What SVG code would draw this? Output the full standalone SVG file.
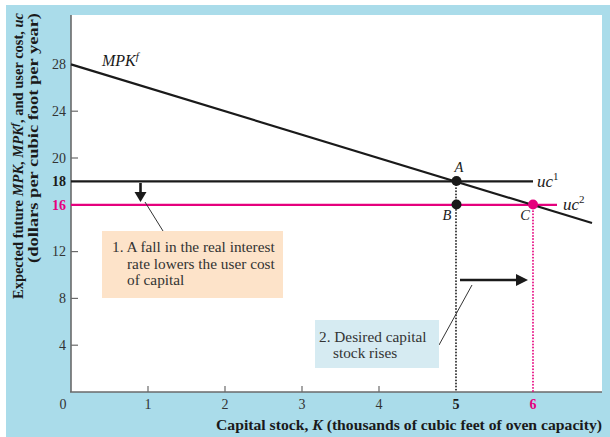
<svg xmlns="http://www.w3.org/2000/svg" width="610" height="437" viewBox="0 0 610 437">
<defs>
<style>
.t{font-family:"Liberation Serif","DejaVu Serif",serif;font-size:15.3px;fill:#333}
.tk{font-family:"Liberation Serif","DejaVu Serif",serif;font-size:14px;fill:#333}
.b{font-weight:bold}
.i{font-style:italic}
.pk{fill:#e5007d}
.ax{stroke:#6a6a6a;stroke-width:1.6;fill:none}
.tick{stroke:#6a6a6a;stroke-width:1.2}
.ln{stroke:#1a1a1a;stroke-width:2.2;fill:none}
.pl{stroke:#e5007d;stroke-width:2.2;fill:none}
.lead{stroke:#333;stroke-width:1;fill:none}
.dotb{stroke:#222;stroke-width:1.8;stroke-dasharray:0.1 3;stroke-linecap:round;fill:none}
.dotp{stroke:#e5007d;stroke-width:1.8;stroke-dasharray:0.1 3;stroke-linecap:round;fill:none}
.lab{font-family:"Liberation Serif","DejaVu Serif",serif;font-style:italic;fill:#1a1a1a}
</style>
</defs>
<rect x="6" y="5" width="604" height="432" fill="#aadcea"/>
<rect x="71" y="15" width="531" height="377" fill="#ffffff"/>

<g id="axes">
<line class="ax" x1="71" y1="15" x2="71" y2="392"/>
<line class="ax" x1="70" y1="392" x2="602" y2="392"/>
<g class="tick">
<line x1="71" y1="111.2" x2="78" y2="111.2"/>
<line x1="71" y1="158" x2="78" y2="158"/>
<line x1="71" y1="251.6" x2="78" y2="251.6"/>
<line x1="71" y1="298.4" x2="78" y2="298.4"/>
<line x1="71" y1="345.2" x2="78" y2="345.2"/>
<line x1="148" y1="386" x2="148" y2="392"/>
<line x1="225" y1="386" x2="225" y2="392"/>
<line x1="302" y1="386" x2="302" y2="392"/>
<line x1="379" y1="386" x2="379" y2="392"/>
</g>
<g class="tk" text-anchor="end">
<text x="66" y="69">28</text>
<text x="66" y="116">24</text>
<text x="66" y="163">20</text>
<text x="66" y="186" class="tk b" style="fill:#1a1a1a">18</text>
<text x="66" y="210" class="tk b pk">16</text>
<text x="66" y="256">12</text>
<text x="66" y="303">8</text>
<text x="66" y="350">4</text>
</g>
<g class="tk" text-anchor="middle">
<text x="63" y="409">0</text>
<text x="148" y="409">1</text>
<text x="225" y="409">2</text>
<text x="302" y="409">3</text>
<text x="379" y="409">4</text>
<text x="456" y="409" class="tk b" style="fill:#1a1a1a">5</text>
<text x="533" y="409" class="tk b pk">6</text>
</g>
<text class="tk b" x="216" y="430" textLength="386" lengthAdjust="spacingAndGlyphs" style="fill:#1a1a1a">Capital stock, <tspan class="i">K</tspan> (thousands of cubic feet of oven capacity)</text>
<text class="tk b" transform="translate(23,156) rotate(-90)" text-anchor="middle" textLength="286" lengthAdjust="spacingAndGlyphs" style="fill:#1a1a1a">Expected future <tspan class="i">MPK</tspan>, <tspan class="i">MPK</tspan><tspan class="i" font-size="10" dy="-5">f</tspan><tspan dy="5">, and user cost, </tspan><tspan class="i">uc</tspan></text>
<text class="tk b" transform="translate(38,138) rotate(-90)" text-anchor="middle" textLength="250" lengthAdjust="spacingAndGlyphs" style="fill:#1a1a1a">(dollars per cubic foot per year)</text>
</g>

<g id="connectors">
<line class="dotb" x1="456" y1="185" x2="456" y2="391"/>
<line class="dotp" x1="533" y1="208" x2="533" y2="391"/>
<line class="ln" x1="71" y1="181.4" x2="533" y2="181.4"/>
<line class="pl" x1="71" y1="204.8" x2="557" y2="204.8"/>
<line class="ln" x1="71" y1="64.4" x2="592" y2="223"/>
<line class="lead" x1="145" y1="202" x2="163" y2="231"/>
<line class="lead" x1="472" y1="285" x2="439" y2="345"/>
<line stroke="#1a1a1a" stroke-width="2.6" x1="140.5" y1="183" x2="140.5" y2="194"/>
<polygon points="134.5,192 146.5,192 140.5,202" fill="#1a1a1a"/>
<line stroke="#1a1a1a" stroke-width="2.6" x1="460" y1="280" x2="519" y2="280"/>
<polygon points="516,274 528,280 516,286" fill="#1a1a1a"/>
</g>

<g id="mpk-label">
<text class="lab" x="102" y="66" font-size="16">MPK<tspan font-size="11" dy="-6">f</tspan></text>
</g>
<g id="uc1-label">
<text class="lab" x="537" y="187" font-size="17">uc<tspan font-size="11" font-style="normal" dy="-7">1</tspan></text>
</g>
<g id="uc2-label">
<text class="lab" x="563" y="210" font-size="17">uc<tspan font-size="11" font-style="normal" dy="-7">2</tspan></text>
</g>

<g id="point-A">
<circle cx="456.5" cy="181" r="5" fill="#1a1a1a"/>
<text class="lab" x="459" y="172" font-size="14.5" text-anchor="middle">A</text>
</g>
<g id="point-B">
<circle cx="456.5" cy="204.5" r="5" fill="#1a1a1a"/>
<text class="lab" x="447" y="220" font-size="14.5" text-anchor="middle">B</text>
</g>
<g id="point-C">
<circle cx="533" cy="204.5" r="5" fill="#e5007d"/>
<text class="lab" x="525" y="220" font-size="14.5" text-anchor="middle">C</text>
</g>

<g id="note-1">
<rect x="102" y="231" width="181" height="67" fill="#fde3c9"/>
<text class="t" x="112" y="252">1. A fall in the real interest</text>
<text class="t" x="127" y="269">rate lowers the user cost</text>
<text class="t" x="127" y="285">of capital</text>
</g>
<g id="note-2">
<rect x="315" y="320" width="124" height="48" fill="#d6ebf2"/>
<text class="t" x="319" y="342">2. Desired capital</text>
<text class="t" x="333" y="358">stock rises</text>
</g>
</svg>
